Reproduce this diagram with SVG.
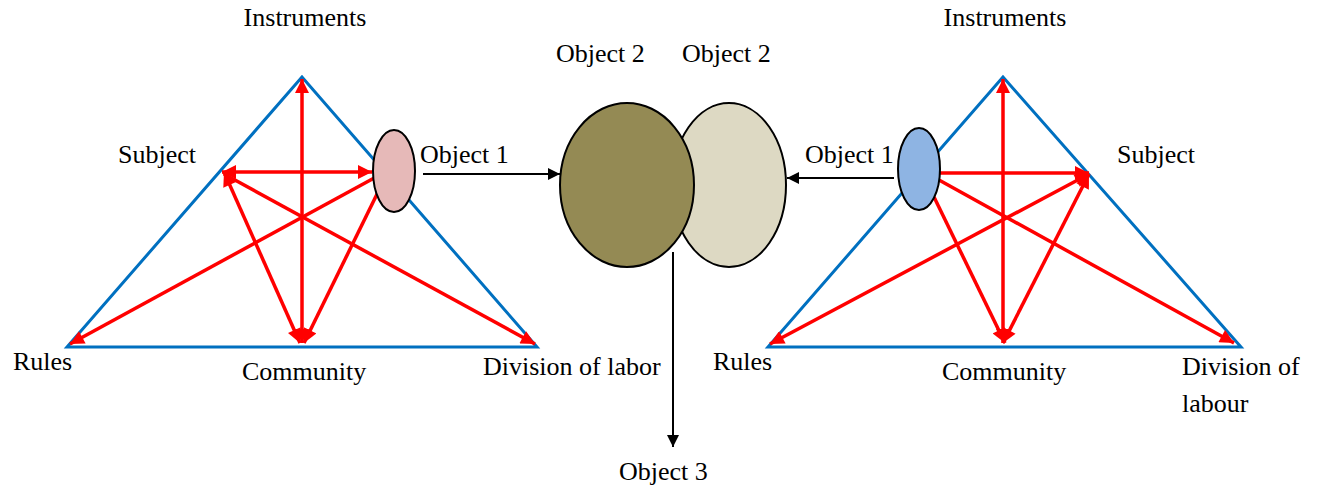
<svg xmlns="http://www.w3.org/2000/svg" width="1320" height="488" viewBox="0 0 1320 488">
<style>
text{font-family:"Liberation Serif","Times New Roman",serif;font-size:26px;fill:#000}
.tri{fill:none;stroke:#0070C0;stroke-width:3;stroke-linejoin:miter}
.red{stroke:#FF0000;stroke-width:3.5;fill:none;marker-end:url(#ra)}
.red2{stroke:#FF0000;stroke-width:3.5;fill:none;marker-start:url(#ra);marker-end:url(#ra)}
.blk{stroke:#000;stroke-width:2;fill:none;marker-end:url(#ba)}
.el{stroke:#000;stroke-width:2}
</style>
<defs>
<marker id="ra" viewBox="0 0 10 10" refX="10" refY="5" markerWidth="15" markerHeight="14" markerUnits="userSpaceOnUse" orient="auto-start-reverse">
<path d="M0,0 L10,5 L0,10 z" fill="#FF0000"/>
</marker>
<marker id="ba" viewBox="0 0 10 10" refX="10" refY="5" markerWidth="14" markerHeight="12" markerUnits="userSpaceOnUse" orient="auto-start-reverse">
<path d="M0,0 L10,5 L0,10 z" fill="#000"/>
</marker>
</defs>

<g id="left-triangle">
<polygon class="tri" points="302,77 67,347 537,347"/>
</g>
<g id="right-triangle">
<polygon class="tri" points="1003,77 768,347 1241,347"/>
</g>

<g id="connectors">
<line class="red2" x1="302" y1="343" x2="302" y2="79"/>
<line class="red2" x1="372" y1="172" x2="222" y2="172"/>
<line class="red" x1="376" y1="177" x2="70" y2="344"/>
<line class="red" x1="224" y1="174" x2="535" y2="344"/>
<line class="red2" x1="300" y1="343" x2="224" y2="172"/>
<line class="red" x1="380" y1="188" x2="304" y2="343"/>

<line class="red2" x1="1003" y1="343" x2="1003" y2="79"/>
<line class="red" x1="940" y1="173" x2="1089" y2="173"/>
<line class="red" x1="939" y1="180" x2="1234" y2="343"/>
<line class="red" x1="934" y1="197" x2="1005" y2="343"/>
<line class="red2" x1="770" y1="344" x2="1089" y2="174"/>
<line class="red2" x1="1003" y1="343" x2="1089" y2="174"/>

<line class="blk" x1="423" y1="174" x2="560" y2="174"/>
<line class="blk" x1="894" y1="178" x2="787" y2="178"/>
<line class="blk" x1="673" y1="252" x2="673" y2="447"/>
</g>

<g id="object1-left"><ellipse class="el" cx="394" cy="171" rx="21" ry="41" fill="#E6B9B8"/></g>
<g id="object1-right"><ellipse class="el" cx="919" cy="169" rx="21" ry="41" fill="#8EB4E3"/></g>
<g id="object2-right"><ellipse class="el" cx="729" cy="185" rx="57" ry="82" fill="#DDD9C3"/></g>
<g id="object2-left"><ellipse class="el" cx="627" cy="185" rx="67" ry="82" fill="#948A54"/></g>

<g id="labels">
<text x="305" y="26" text-anchor="middle">Instruments</text>
<text x="118" y="163">Subject</text>
<text x="420" y="163">Object 1</text>
<text x="556" y="62">Object 2</text>
<text x="682" y="62">Object 2</text>
<text x="13" y="370">Rules</text>
<text x="242" y="380">Community</text>
<text x="483" y="375">Division of labor</text>
<text x="619" y="480">Object 3</text>

<text x="1005" y="26" text-anchor="middle">Instruments</text>
<text x="805" y="163">Object 1</text>
<text x="1117" y="163">Subject</text>
<text x="713" y="370">Rules</text>
<text x="942" y="380">Community</text>
<text x="1182" y="375">Division of</text>
<text x="1182" y="412">labour</text>
</g>
</svg>
